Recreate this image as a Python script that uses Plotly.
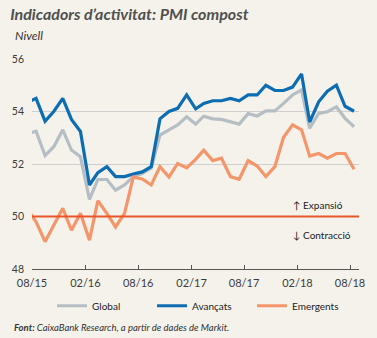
import plotly.graph_objects as go

# Monthly PMI composite readings, Jul 2015 - Aug 2018 (plotted mid-month)
months = [
    "2015-07", "2015-08", "2015-09", "2015-10", "2015-11", "2015-12",
    "2016-01", "2016-02", "2016-03", "2016-04", "2016-05", "2016-06",
    "2016-07", "2016-08", "2016-09", "2016-10", "2016-11", "2016-12",
    "2017-01", "2017-02", "2017-03", "2017-04", "2017-05", "2017-06",
    "2017-07", "2017-08", "2017-09", "2017-10", "2017-11", "2017-12",
    "2018-01", "2018-02", "2018-03", "2018-04", "2018-05", "2018-06",
    "2018-07", "2018-08",
]

global_pmi = [
    53.15, 53.25, 52.32, 52.66, 53.30, 52.53,
    52.28, 50.65, 51.41, 51.41, 51.00, 51.20,
    51.52, 51.64, 51.85, 53.10, 53.30, 53.49,
    53.80, 53.52, 53.82, 53.72, 53.70, 53.61,
    53.52, 53.92, 53.83, 54.02, 54.02, 54.31,
    54.63, 54.82, 53.36, 53.93, 53.99, 54.18,
    53.74, 53.42,
]

avancats = [
    54.35, 54.50, 53.63, 54.00, 54.50, 53.70,
    53.24, 51.20, 51.67, 51.90, 51.52, 51.52,
    51.62, 51.70, 51.90, 53.72, 54.00, 54.12,
    54.63, 54.10, 54.31, 54.41, 54.41, 54.50,
    54.41, 54.63, 54.63, 55.00, 54.80, 54.80,
    54.93, 55.43, 53.60, 54.37, 54.77, 55.00,
    54.20, 54.01,
]

emergents = [
    50.30, 49.80, 49.04, 49.65, 50.31, 49.48,
    50.12, 49.10, 50.60, 50.12, 49.60, 50.12,
    51.50, 51.43, 51.20, 51.90, 51.50, 52.02,
    51.85, 52.18, 52.53, 52.13, 52.22, 51.52,
    51.42, 52.13, 51.92, 51.52, 51.90, 53.02,
    53.49, 53.30, 52.30, 52.40, 52.22, 52.40,
    52.40, 51.80,
]

threshold = 50
y_ticks = [48, 50, 52, 54, 56]

dates = [m + "-15" for m in months]

BG = "#f5f2eb"
TEXT = "#3c3c3c"
FONT = "Lato"

fig = go.Figure()

series = [
    ("Global", global_pmi, "#b5bec4"),
    ("Avançats", avancats, "#0d6db3"),
    ("Emergents", emergents, "#f4956a"),
]
for name, vals, color in series:
    fig.add_trace(go.Scatter(
        x=dates, y=vals, name=name, mode="lines",
        line=dict(color=color, width=3.2),
        hoverinfo="x+y+name",
    ))

# 50-point boundary between expansion and contraction
fig.add_shape(
    type="line", xref="paper", yref="y",
    x0=0, x1=1, y0=threshold, y1=threshold,
    line=dict(color="#e8562a", width=2.2), layer="above",
)

fig.add_annotation(
    x="2018-01-10", y=50.45, xref="x", yref="y",
    text="↑ Expansió", showarrow=False, xanchor="left",
    font=dict(family=FONT, size=10, color="#222"),
)
fig.add_annotation(
    x="2018-01-10", y=49.3, xref="x", yref="y",
    text="↓ Contracció", showarrow=False, xanchor="left",
    font=dict(family=FONT, size=10, color="#222"),
)

fig.update_layout(
    width=377, height=338,
    paper_bgcolor=BG, plot_bgcolor=BG,
    margin=dict(l=30, r=16, t=59, b=69),
    font=dict(family=FONT, color=TEXT, size=11),
    title=dict(
        text="Indicadors d’activitat: PMI compost",
        x=0.027, xanchor="left", y=0.956, yanchor="middle",
        font=dict(family=FONT, size=16, color="#505050",
                  weight="bold", style="italic"),
    ),
    showlegend=True,
    legend=dict(
        orientation="h", x=0.52, xanchor="center", y=-0.175, yanchor="middle",
        font=dict(family=FONT, size=10, color="#222"),
        bgcolor="rgba(0,0,0,0)", entrywidth=55, entrywidthmode="pixels",
        itemclick=False,
    ),
    xaxis=dict(
        type="date",
        range=["2015-08-01", "2018-09-01"],
        tick0="2015-08-01", dtick="M6", tickformat="%m/%y",
        ticks="inside", ticklen=4, tickcolor="#555",
        showline=True, linecolor="#555", linewidth=1,
        showgrid=False, zeroline=False, ticklabelstandoff=4,
        tickfont=dict(family=FONT, size=11, color=TEXT),
    ),
    yaxis=dict(
        range=[48, 56], tickvals=y_ticks,
        showgrid=True, gridcolor="#cfcfcf", gridwidth=1,
        zeroline=False, showline=False, ticks="",
        ticklabelstandoff=7,
        tickfont=dict(family=FONT, size=10.5, color=TEXT),
    ),
)

fig.add_annotation(
    text="Nivell", xref="paper", yref="paper",
    x=-0.058, y=1.114, xanchor="left", yanchor="middle", showarrow=False,
    font=dict(family=FONT, size=12, color="#333", style="italic"),
)
fig.add_annotation(
    text="<b>Font:</b> CaixaBank Research, a partir de dades de Markit.",
    xref="paper", yref="paper",
    x=-0.061, y=-0.28, xanchor="left", yanchor="middle", showarrow=False,
    font=dict(family=FONT, size=9.5, color="#333", style="italic"),
)

fig.write_html("out.html")
